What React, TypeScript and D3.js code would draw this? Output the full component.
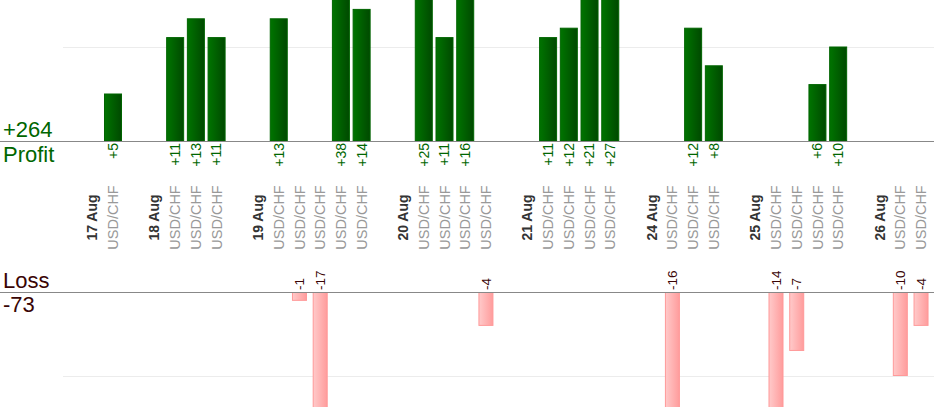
import React from "react";
import * as d3 from "d3";

const labels: string[] = [
  "", "17 Aug", "USD/CHF",
  "", "18 Aug", "USD/CHF", "USD/CHF", "USD/CHF",
  "", "19 Aug", "USD/CHF", "USD/CHF", "USD/CHF", "USD/CHF", "USD/CHF",
  "", "20 Aug", "USD/CHF", "USD/CHF", "USD/CHF", "USD/CHF",
  "", "21 Aug", "USD/CHF", "USD/CHF", "USD/CHF", "USD/CHF",
  "", "24 Aug", "USD/CHF", "USD/CHF", "USD/CHF",
  "", "25 Aug", "USD/CHF", "USD/CHF", "USD/CHF", "USD/CHF",
  "", "26 Aug", "USD/CHF", "USD/CHF",
];

const values: (number | null)[] = [
  null, null, 5,
  null, null, 11, 13, 11,
  null, null, 13, -1, -17, 38, 14,
  null, null, 25, 11, 16, -4,
  null, null, 11, 12, 21, 27,
  null, null, -16, 12, 8,
  null, null, -14, -7, 6, 10,
  null, null, -10, -4,
];

const profitGridTicks = [10];
const lossGridTicks = [10];

const W = 934;
const H = 420;
const FONT = "'Liberation Sans', Arial, Helvetica, sans-serif";
const GREEN = "#006600";
const MAROON = "#3a0505";

export default function App() {
  const idx = labels.map((_, i) => i);
  const x = d3.scaleBand<number>().domain(idx).range([61.2, 931.4]).padding(0);
  const profitBase = 141;
  const lossBase = 292;
  const yP = d3.scaleLinear().domain([0, 15]).range([profitBase, 0]);
  const yL = d3.scaleLinear().domain([0, 10]).range([lossBase, 375.5]);

  const totalProfit = d3.sum(values, (v) => (v != null && v > 0 ? v : 0));
  const totalLoss = d3.sum(values, (v) => (v != null && v < 0 ? v : 0));

  const cx = (i: number) => (x(i) as number) + x.bandwidth() / 2;
  const pw = 17;
  const lw = 14;

  return (
    <svg
      width={W}
      height={H}
      style={{ position: "absolute", left: 0, top: 0, background: "#fff" }}
      fontFamily={FONT}
    >
      <defs>
        <linearGradient id="gp" x1="0" x2="1" y1="0" y2="0">
          <stop offset="0" stopColor="#007400" />
          <stop offset="1" stopColor="#004900" />
        </linearGradient>
        <linearGradient id="gl" x1="0" x2="1" y1="0" y2="0">
          <stop offset="0" stopColor="#ffcaca" />
          <stop offset="1" stopColor="#ff9c9c" />
        </linearGradient>
        <clipPath id="cp">
          <rect x={0} y={0} width={W} height={profitBase} />
        </clipPath>
        <clipPath id="cl">
          <rect x={0} y={lossBase} width={W} height={407 - lossBase} />
        </clipPath>
      </defs>

      {profitGridTicks.map((t) => (
        <line key={"pg" + t} x1={63} x2={W} y1={Math.round(yP(t)) + 0.5} y2={Math.round(yP(t)) + 0.5} stroke="#ececec" />
      ))}
      {lossGridTicks.map((t) => (
        <line key={"lg" + t} x1={63} x2={W} y1={Math.round(yL(t)) + 0.5} y2={Math.round(yL(t)) + 0.5} stroke="#ececec" />
      ))}

      <g clipPath="url(#cp)">
        {values.map((v, i) =>
          v != null && v > 0 ? (
            <rect
              key={"p" + i}
              x={cx(i) - pw / 2}
              y={yP(v)}
              width={pw}
              height={profitBase - yP(v)}
              fill="url(#gp)"
              stroke="#006400"
              strokeWidth={1}
            />
          ) : null
        )}
      </g>

      <g clipPath="url(#cl)">
        {values.map((v, i) =>
          v != null && v < 0 ? (
            <rect
              key={"l" + i}
              x={cx(i) - lw / 2}
              y={lossBase}
              width={lw}
              height={yL(-v) - lossBase}
              fill="url(#gl)"
              stroke="#ff9999"
              strokeWidth={1}
            />
          ) : null
        )}
      </g>

      <line x1={0} x2={W} y1={profitBase + 0.5} y2={profitBase + 0.5} stroke="#888" />
      <line x1={0} x2={W} y1={lossBase + 0.5} y2={lossBase + 0.5} stroke="#888" />

      {values.map((v, i) =>
        v != null && v > 0 ? (
          <text
            key={"pt" + i}
            transform={`translate(${cx(i)},${profitBase + 2}) rotate(-90)`}
            textAnchor="end"
            dy="0.35em"
            fontSize={14}
            fill={GREEN}
          >
            {"+" + v}
          </text>
        ) : null
      )}
      {values.map((v, i) =>
        v != null && v < 0 ? (
          <text
            key={"lt" + i}
            transform={`translate(${cx(i)},${lossBase - 2}) rotate(-90)`}
            textAnchor="start"
            dy="0.35em"
            fontSize={13.5}
            fill={MAROON}
          >
            {String(v)}
          </text>
        ) : null
      )}

      {labels.map((l, i) =>
        l ? (
          <text
            key={"c" + i}
            transform={`translate(${cx(i)},217.5) rotate(-90)`}
            textAnchor="middle"
            dy="0.35em"
            fontSize={l.includes("Aug") ? 14 : 14.5}
            fontWeight={l.includes("Aug") ? "bold" : "normal"}
            fill={l.includes("Aug") ? "#333" : "#999"}
          >
            {l}
          </text>
        ) : null
      )}

      <text x={3} y={137} fontSize={22} fill={GREEN}>{"+" + totalProfit}</text>
      <text x={3} y={162} fontSize={22} fill={GREEN}>Profit</text>
      <text x={3} y={288} fontSize={22} fill={MAROON}>Loss</text>
      <text x={3} y={312} fontSize={22} fill={MAROON}>{String(totalLoss)}</text>
    </svg>
  );
}
